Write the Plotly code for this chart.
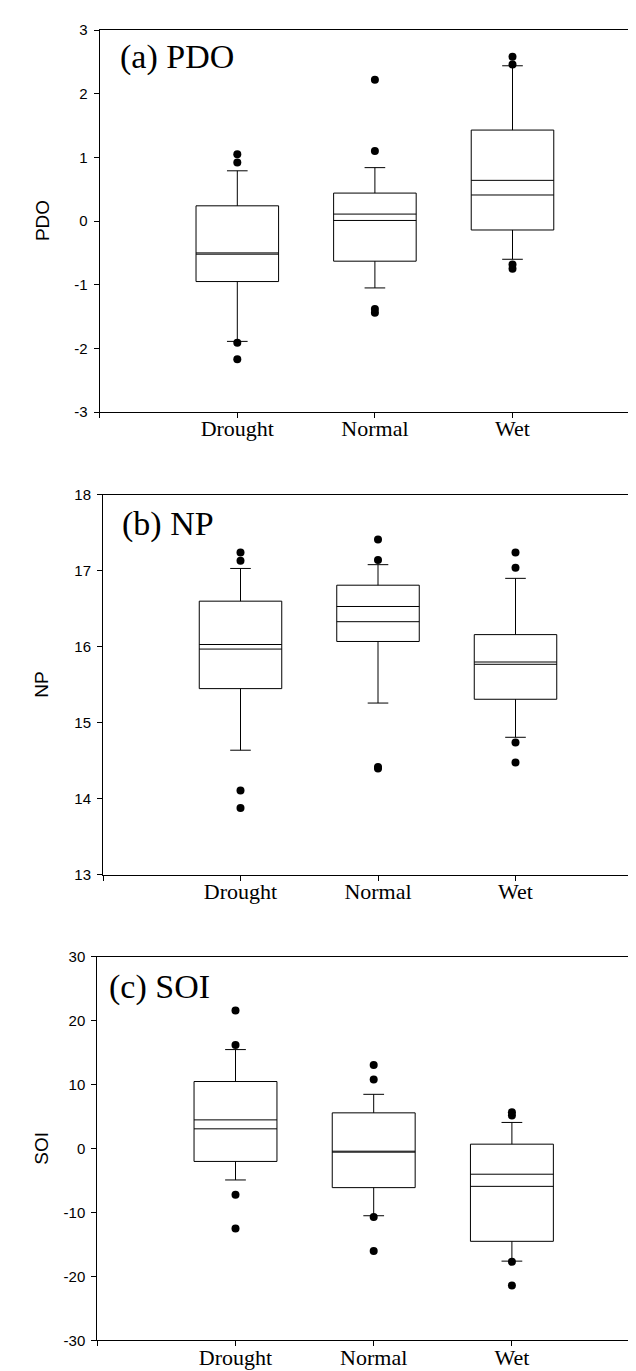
import plotly.graph_objects as go

# ---------------- data ----------------
categories = ["Drought", "Normal", "Wet"]
positions = [1, 2, 3]

panel_names = ["PDO", "NP", "SOI"]
panel_labels = ["(a) PDO", "(b) NP", "(c) SOI"]

pdo_q1 = [-0.95, -0.63, -0.14]
pdo_q3 = [0.24, 0.44, 1.43]
pdo_median = [-0.50, 0.11, 0.41]
pdo_mean = [-0.52, 0.01, 0.64]
pdo_lower = [-1.89, -1.05, -0.60]
pdo_upper = [0.79, 0.84, 2.44]
pdo_outliers = [[1.05, 0.92, -1.91, -2.17],
                [2.22, 1.10, -1.38, -1.44],
                [2.58, 2.46, -0.68, -0.75]]

np_q1 = [15.45, 16.07, 15.31]
np_q3 = [16.60, 16.81, 16.16]
np_median = [16.03, 16.33, 15.80]
np_mean = [15.97, 16.53, 15.77]
np_lower = [14.64, 15.26, 14.81]
np_upper = [17.03, 17.08, 16.90]
np_outliers = [[17.24, 17.13, 14.11, 13.88],
               [17.41, 17.14, 14.42, 14.40],
               [17.24, 17.04, 14.74, 14.48]]

soi_q1 = [-2.0, -6.1, -14.5]
soi_q3 = [10.5, 5.6, 0.7]
soi_median = [3.1, -0.4, -5.9]
soi_mean = [4.5, -0.55, -4.0]
soi_lower = [-4.9, -10.5, -17.6]
soi_upper = [15.5, 8.5, 4.1]
soi_outliers = [[21.6, 16.2, -7.2, -12.5],
                [13.1, 10.8, -10.7, -16.0],
                [5.7, 5.2, -17.7, -21.4]]

pdo_ticks = [-3, -2, -1, 0, 1, 2, 3]
np_ticks = [13, 14, 15, 16, 17, 18]
soi_ticks = [-30, -20, -10, 0, 10, 20, 30]

# ---------------- layout constants ----------------
W, H = 636, 1371
BOX_WIDTH = 0.6
panels = [
    dict(q1=pdo_q1, q3=pdo_q3, med=pdo_median, mean=pdo_mean, lo=pdo_lower, hi=pdo_upper,
         out=pdo_outliers, ticks=pdo_ticks, top=13.3, bottom=400.0, left=91.7, step=137.6),
    dict(q1=np_q1, q3=np_q3, med=np_median, mean=np_mean, lo=np_lower, hi=np_upper,
         out=np_outliers, ticks=np_ticks, top=483.7, bottom=868.7, left=95.0, step=137.5),
    dict(q1=soi_q1, q3=soi_q3, med=soi_median, mean=soi_mean, lo=soi_lower, hi=soi_upper,
         out=soi_outliers, ticks=soi_ticks, top=951.7, bottom=1340.0, left=89.3, step=138.2),
]
label_pos = [(109.6, 41.0), (111.6, 513.0), (98.7, 981.7)]

fig = go.Figure()
annotations = []
layout_axes = {}

for i, p in enumerate(panels):
    n = i + 1
    xa = "x" if n == 1 else f"x{n}"
    ya = "y" if n == 1 else f"y{n}"
    xkey = "xaxis" if n == 1 else f"xaxis{n}"
    ykey = "yaxis" if n == 1 else f"yaxis{n}"

    fig.add_trace(go.Box(
        x=positions, q1=p["q1"], median=p["med"], q3=p["q3"],
        lowerfence=p["lo"], upperfence=p["hi"],
        width=BOX_WIDTH, whiskerwidth=0.25, boxpoints=False,
        line=dict(color="black", width=1), fillcolor="rgba(255,255,255,0)",
        xaxis=xa, yaxis=ya, showlegend=False, hoverinfo="skip"))

    mx, my = [], []
    for pos, m in zip(positions, p["mean"]):
        mx += [pos - BOX_WIDTH / 2, pos + BOX_WIDTH / 2, None]
        my += [m, m, None]
    fig.add_trace(go.Scatter(x=mx, y=my, mode="lines", line=dict(color="black", width=1),
                             xaxis=xa, yaxis=ya, showlegend=False, hoverinfo="skip"))

    ox, oy = [], []
    for pos, vals in zip(positions, p["out"]):
        ox += [pos] * len(vals)
        oy += vals
    fig.add_trace(go.Scatter(x=ox, y=oy, mode="markers",
                             marker=dict(color="black", size=8),
                             xaxis=xa, yaxis=ya, showlegend=False, hoverinfo="skip"))

    xmax = (W - p["left"]) / p["step"]
    layout_axes[xkey] = dict(
        domain=[p["left"] / W, 1.0], range=[0, xmax], anchor=ya,
        tickvals=[0] + positions, ticktext=[""] + categories,
        ticks="outside", ticklen=5, tickcolor="black", tickwidth=1,
        showline=True, linecolor="black", linewidth=1, mirror=True,
        showgrid=False, zeroline=False,
        tickfont=dict(family="Liberation Serif, Times New Roman, serif", size=22, color="black"),
        ticklabelstandoff=-8)
    layout_axes[ykey] = dict(
        domain=[1 - p["bottom"] / H, 1 - p["top"] / H],
        range=[p["ticks"][0], p["ticks"][-1]], anchor=xa,
        tickvals=p["ticks"], ticktext=[str(t) for t in p["ticks"]],
        ticks="outside", ticklen=5, tickcolor="black", tickwidth=1,
        showline=True, linecolor="black", linewidth=1,
        showgrid=False, zeroline=False,
        tickfont=dict(family="Liberation Sans, Arial, sans-serif", size=15, color="black"),
        ticklabelstandoff=3)

    annotations.append(dict(
        text=panel_names[i], xref="paper", yref="paper",
        x=34 / W, y=1 - (p["top"] + p["bottom"]) / 2 / H,
        xanchor="center", yanchor="middle", textangle=-90, showarrow=False,
        font=dict(family="Liberation Sans, Arial, sans-serif", size=19, color="black")))
    lx, ly = label_pos[i]
    annotations.append(dict(
        text=panel_labels[i], xref="paper", yref="paper",
        x=lx / W, y=1 - ly / H, xanchor="left", yanchor="middle", showarrow=False,
        font=dict(family="Liberation Serif, Times New Roman, serif", size=34, color="black")))

fig.update_layout(
    width=W, height=H, margin=dict(l=0, r=0, t=0, b=0),
    paper_bgcolor="white", plot_bgcolor="white",
    annotations=annotations, showlegend=False, **layout_axes)

fig.write_html("out.html")
